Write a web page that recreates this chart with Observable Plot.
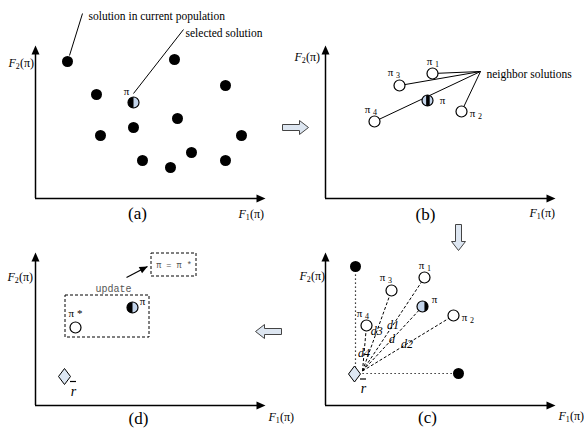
<!DOCTYPE html>
<html><head><meta charset="utf-8">
<script src="https://cdn.jsdelivr.net/npm/d3@7"></script>
<script src="https://cdn.jsdelivr.net/npm/@observablehq/plot@0.6"></script>
<style>body{margin:0;background:#fff}#chart svg{display:block}</style>
</head><body><div id="chart"></div>
<script>
// ---------- data (objective values F1, F2 in arbitrary units) ----------
const panels = ["a", "b", "c", "d"];
const panelCaptions = ["(a)", "(b)", "(c)", "(d)"];
// (a) current population
const popF1 = [32, 139, 190, 61, 142, 98, 65, 206, 156, 107, 135, 190];
const popF2 = [137, 139, 113, 104, 80, 71, 63, 63, 46, 38, 31, 38];
// selected solution π in every panel
const selPanel = ["a", "b", "c", "d"];
const selF1 = [98, 102, 97, 97];
const selF2 = [96, 98, 99, 98];
// neighbor solutions π1..π4 in (b) and (c)
const nbrNames = ["1", "2", "3", "4"];
const nbrF1b = [107, 136, 74, 49];
const nbrF2b = [125, 87, 113, 77];
const nbrF1c = [99, 128, 66, 41];
const nbrF2c = [128, 90, 115, 80];
// extreme solutions in (c)
const extF1 = [30, 133];
const extF2 = [139, 32];
// reference point r̄ in (c) and (d)
const refPanel = ["c", "d"];
const refF1 = [37, 37];
const refF2 = [34.5, 32];
// best solution π* in (d)
const bestF1 = [40];
const bestF2 = [78];
// distance labels (π1..π4, π)
const distLabels = ["d1", "d2", "d3", "d4", "d"];

// ---------- layout helpers ----------
const panelCol = {a: 0, b: 1, c: 1, d: 0};
const panelRow = {a: 0, b: 0, c: 1, d: 1};
const F = {fx: d => panelCol[d.panel], fy: d => panelRow[d.panel]};
const blue = "#c3d4ea";
const serif = "Liberation Serif";
const mono = "Liberation Mono";

const panelRows = panels.map((p, i) => ({panel: p, caption: panelCaptions[i]}));
const pop = popF1.map((x, i) => ({panel: "a", x, y: popF2[i]}));
const sel = selPanel.map((p, i) => ({panel: p, x: selF1[i], y: selF2[i]}));
const nbrB = nbrNames.map((n, i) => ({panel: "b", n, x: nbrF1b[i], y: nbrF2b[i]}));
const nbrC = nbrNames.map((n, i) => ({panel: "c", n, x: nbrF1c[i], y: nbrF2c[i]}));
const ext = extF1.map((x, i) => ({panel: "c", x, y: extF2[i]}));
const ref = refPanel.map((p, i) => ({panel: p, x: refF1[i], y: refF2[i]}));
const refC = ref.find(d => d.panel === "c");
const best = bestF1.map((x, i) => ({panel: "d", x, y: bestF2[i]}));
const distTargets = [...nbrC, sel.find(d => d.panel === "c")];
const distRows = distTargets.map((t, i) => ({panel: "c", label: distLabels[i], x1: refC.x, y1: refC.y, x2: t.x, y2: t.y, t: i === 3 ? 0.4 : 0.49}));

// annotation layout
const axisLab = {a: {f2: [-27, 135], f1: [203, -16]}, b: {f2: [-31, 141], f1: [204, -15]},
                 c: {f2: [-26, 129], f1: [233, -11]}, d: {f2: [-28, 128], f1: [233, -12]}};
const captionPos = {a: [102, -15], b: [100, -16], c: [102, -12], d: [103, -13]};
const selLab = {a: [-7, 11], b: [15, 0], c: [12, 7], d: [10, 6]};
const nbrLab = {"1": [-3, 12], "2": [11, -2], "3": [-9, 13], "4": [-7, 12]};
const notes = [
  {panel: "a", text: "solution in current population", x: 53, y: 182},
  {panel: "a", text: "selected solution", x: 150, y: 165},
  {panel: "b", text: "neighbor solutions", x: 161, y: 124}
];
const leaders = [
  {panel: "a", x1: 47, y1: 185, x2: 34, y2: 143},
  {panel: "a", x1: 148, y1: 169, x2: 98, y2: 105}
];
const hubB = {x: 155, y: 127};
const boxes = [
  {panel: "d", x1: 30, x2: 114, y1: 68, y2: 110},
  {panel: "d", x1: 116, x2: 161, y1: 129, y2: 152}
];
const updateArrow = [{panel: "d", x1: 91, y1: 128, x2: 112, y2: 139}];
const blockArrows = [
  {panel: "a", x: 260, y: 71, rot: 0},
  {panel: "b", x: 133, y: -39, rot: 90},
  {panel: "d", x: 233, y: 74, rot: 180}
];

// ---------- custom symbols ----------
function poly(pts, scale) {
  return {draw(ctx, size) {
    const k = Math.sqrt(size / Math.PI) / scale;
    pts.forEach(([x, y], i) => i ? ctx.lineTo(x * k, y * k) : ctx.moveTo(x * k, y * k));
    ctx.closePath();
  }};
}
const blockArrow = poly([[-13, -3], [4, -3], [4, -7], [13, 0], [4, 7], [4, 3], [-13, 3]], 13);
const tipHead = poly([[0, 0], [4, 9], [-4, 9]], 9);
const diamond = poly([[0, -8], [6, 0], [0, 8], [-6, 0]], 8);
function bandSym(a, b) {
  return {draw(ctx, size) {
    const r = Math.sqrt(size / Math.PI), A = a * r, B = b * r;
    const ha = Math.sqrt(Math.max(0, r * r - A * A)), hb = Math.sqrt(Math.max(0, r * r - B * B));
    ctx.moveTo(A, -ha);
    ctx.lineTo(A, ha);
    ctx.arc(0, 0, r, Math.atan2(ha, A), Math.atan2(hb, B), true);
    ctx.lineTo(B, -hb);
    ctx.arc(0, 0, r, Math.atan2(-hb, B), Math.atan2(-ha, A), true);
    ctx.closePath();
  }};
}
const R = 5.5;
const T = {fontFamily: serif, ...F};

const chart = Plot.plot({
  width: 584, height: 428,
  marginTop: 45, marginRight: 29, marginBottom: 23, marginLeft: 35,
  fx: {domain: [0, 1], paddingInner: 60 / 290, paddingOuter: 0, axis: null},
  fy: {domain: [0, 1], paddingInner: 54 / 207, paddingOuter: 0, axis: null},
  x: {domain: [0, 230], axis: null},
  y: {domain: [0, 153], axis: null},
  style: {fontFamily: serif, fontSize: "11px", background: "#fff", overflow: "visible"},
  marks: [
    // axes
    Plot.ruleX(panelRows, {x: 0, y1: 0, y2: 146, stroke: "black", strokeWidth: 1.5, ...F}),
    Plot.ruleY(panelRows, {y: 0, x1: 0, x2: 223, stroke: "black", strokeWidth: 1.5, ...F}),
    Plot.dot(panelRows, {x: 0, y: 153, symbol: tipHead, r: 9, fill: "black", stroke: "none", ...F}),
    Plot.dot(panelRows, {x: 230, y: 0, symbol: tipHead, r: 9, rotate: 90, fill: "black", stroke: "none", ...F}),
    // (a) leaders
    Plot.link(leaders, {x1: "x1", y1: "y1", x2: "x2", y2: "y2", stroke: "black", strokeWidth: 1, ...F}),
    // (b) neighbor leaders
    Plot.link(nbrB, {x1: () => hubB.x, y1: () => hubB.y, x2: "x", y2: "y", stroke: "black", strokeWidth: 1, ...F}),
    // (c) dotted guides to reference point
    Plot.link([ext[0]], {x1: "x", y1: "y", x2: "x", y2: () => refC.y, stroke: "black", strokeDasharray: "1.2,2.8", strokeWidth: 1.2, ...F}),
    Plot.link([ext[1]], {x1: () => refC.x, y1: "y", x2: "x", y2: "y", stroke: "black", strokeDasharray: "1.2,2.8", strokeWidth: 1.2, ...F}),
    // (c) distances
    Plot.link(distRows, {x1: "x1", y1: "y1", x2: "x2", y2: "y2", stroke: "black", strokeDasharray: "3,2", strokeWidth: 1, ...F}),
    // (d) boxes and update arrow
    Plot.rect(boxes, {x1: "x1", x2: "x2", y1: "y1", y2: "y2", fill: "none", stroke: "black", strokeDasharray: "3,2", strokeWidth: 1, ...F}),
    Plot.link(updateArrow, {x1: "x1", y1: "y1", x2: "x2", y2: "y2", stroke: "black", strokeWidth: 1.2, ...F}),
    Plot.dot(updateArrow, {x: "x2", y: "y2", symbol: tipHead, r: 8,
      rotate: d => Math.atan2(d.x2 - d.x1, d.y2 - d.y1) * 180 / Math.PI, fill: "black", stroke: "none", ...F}),
    // dots
    Plot.dot(pop, {x: "x", y: "y", r: R, fill: "black", stroke: "none", ...F}),
    Plot.dot(ext, {x: "x", y: "y", r: R, fill: "black", stroke: "none", ...F}),
    Plot.dot([...nbrB, ...nbrC, ...best], {x: "x", y: "y", r: R, fill: "white", stroke: "black", strokeWidth: 1.2, ...F}),
    Plot.dot(sel, {x: "x", y: "y", r: R, fill: blue, stroke: "none", ...F}),
    Plot.dot(sel.filter(d => d.panel === "a" || d.panel === "d"), {x: "x", y: "y", r: R, symbol: bandSym(-1, 0), fill: "black", stroke: "none", ...F}),
    Plot.dot(sel.filter(d => d.panel === "b"), {x: "x", y: "y", r: R, symbol: bandSym(-0.25, 0.4), fill: "black", stroke: "none", ...F}),
    Plot.dot(sel.filter(d => d.panel === "c"), {x: "x", y: "y", r: R, symbol: bandSym(0.35, 1), fill: "black", stroke: "none", ...F}),
    Plot.dot(sel, {x: "x", y: "y", r: R, fill: "none", stroke: "black", strokeWidth: 1.2, ...F}),
    Plot.dot(ref, {x: "x", y: "y", r: 8, symbol: diamond, dx: -8, dy: 3, fill: "#dde7f3", stroke: "black", strokeWidth: 1, ...F}),
    // r̄ labels
    Plot.text(ref, {x: "x", y: "y", text: () => "r", dx: 1, dy: 18, fontStyle: "italic", fontSize: 14, ...T}),
    Plot.ruleY(ref, {y: "y", x1: d => d.x - 2, x2: d => d.x + 4, dy: 8, stroke: "black", strokeWidth: 1.2, ...F}),
    // π labels
    Plot.text(sel, {x: d => d.x + selLab[d.panel][0], y: d => d.y + selLab[d.panel][1], text: () => "π", fontSize: 11, ...T}),
    Plot.text([...nbrB, ...nbrC], {x: d => d.x + nbrLab[d.n][0], y: d => d.y + nbrLab[d.n][1], text: () => "π", fontSize: 11, ...T}),
    Plot.text([...nbrB, ...nbrC], {x: d => d.x + nbrLab[d.n][0] + 7.5, y: d => d.y + nbrLab[d.n][1] - 2.5, text: "n", fontSize: 8, ...T}),
    Plot.text(best, {x: "x", y: d => d.y + 14, text: () => "π *", fontSize: 11, ...T}),
    // distance labels
    Plot.text(distRows, {x: d => d.x1 + (d.x2 - d.x1) * d.t, y: d => d.y1 + (d.y2 - d.y1) * d.t, text: "label", fontStyle: "italic", fontSize: 12, ...T}),
    // notes
    Plot.text(notes, {x: "x", y: "y", text: "text", textAnchor: "start", fontSize: 11.5, ...T}),
    Plot.text(updateArrow, {x: d => d.x1 - 13, y: d => d.y1 - 11, text: () => "update", fontFamily: mono, fontSize: 10, fill: "#555", ...F}),
    Plot.text([boxes[1]], {x: d => (d.x1 + d.x2) / 2, y: d => (d.y1 + d.y2) / 2, text: () => "π = π *", fontFamily: mono, fontSize: 8.5, fill: "#555", ...F}),
    // axis labels
    Plot.text(panelRows, {x: d => axisLab[d.panel].f2[0], y: d => axisLab[d.panel].f2[1], text: () => "F", fontStyle: "italic", fontSize: 12, textAnchor: "start", ...T}),
    Plot.text(panelRows, {x: d => axisLab[d.panel].f2[0] + 7.3, y: d => axisLab[d.panel].f2[1] - 3, text: () => "2", fontSize: 8, textAnchor: "start", ...T}),
    Plot.text(panelRows, {x: d => axisLab[d.panel].f2[0] + 11.5, y: d => axisLab[d.panel].f2[1], text: () => "(π)", fontSize: 12, textAnchor: "start", ...T}),
    Plot.text(panelRows, {x: d => axisLab[d.panel].f1[0], y: d => axisLab[d.panel].f1[1], text: () => "F", fontStyle: "italic", fontSize: 12, textAnchor: "start", ...T}),
    Plot.text(panelRows, {x: d => axisLab[d.panel].f1[0] + 7.3, y: d => axisLab[d.panel].f1[1] - 3, text: () => "1", fontSize: 8, textAnchor: "start", ...T}),
    Plot.text(panelRows, {x: d => axisLab[d.panel].f1[0] + 11.5, y: d => axisLab[d.panel].f1[1], text: () => "(π)", fontSize: 12, textAnchor: "start", ...T}),
    // captions
    Plot.text(panelRows, {x: d => captionPos[d.panel][0], y: d => captionPos[d.panel][1], text: "caption", fontSize: 17, ...T}),
    // block arrows between panels
    Plot.dot(blockArrows, {x: "x", y: "y", r: 13, symbol: blockArrow, rotate: "rot", fill: "#dde6f1", stroke: "#444", strokeWidth: 1, ...F})
  ]
});
document.getElementById("chart").appendChild(chart);
</script>
</body></html>
